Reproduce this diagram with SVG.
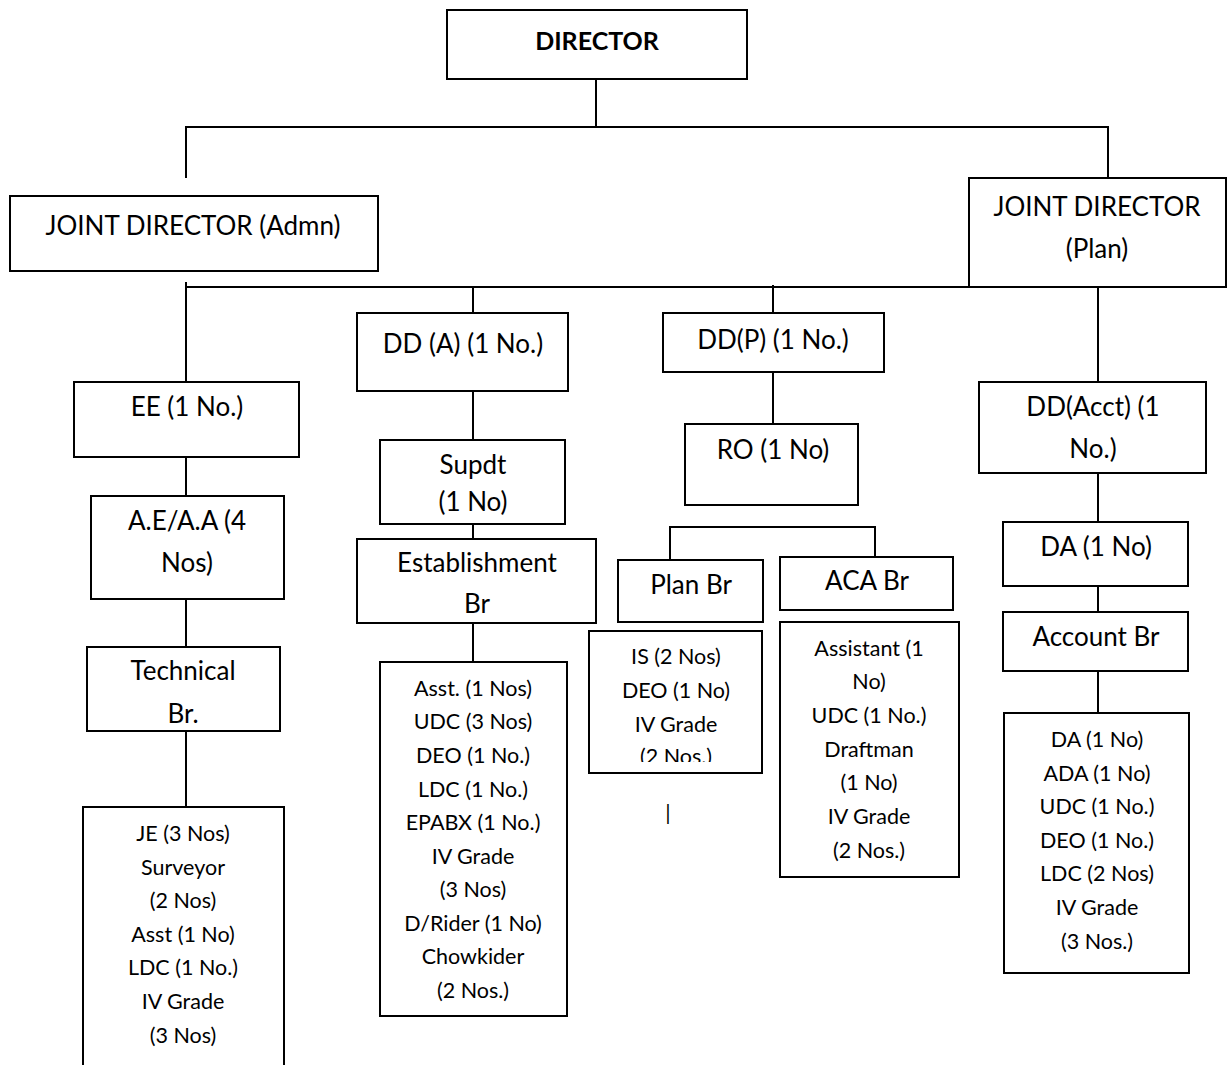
<svg xmlns="http://www.w3.org/2000/svg" width="1227" height="1065" viewBox="0 0 1227 1065">
<style>
.box{fill:#fff;stroke:#000;stroke-width:2}
.t{font-family:Lato,"Open Sans","Liberation Sans",sans-serif;font-size:26px;text-anchor:middle;fill:#000}
.s{font-size:21.5px}
.b{font-weight:bold;font-size:25px}
.c line{stroke:#000;stroke-width:2}
</style>
<defs>
<clipPath id="isclip"><rect x="589" y="631" width="173" height="131"/></clipPath>
</defs>
<rect width="1227" height="1065" fill="#fff"/>
<g id="connectors" class="c">
<line x1="596" y1="79" x2="596" y2="127"/>
<line x1="186" y1="127" x2="1109" y2="127"/>
<line x1="186" y1="126" x2="186" y2="178"/>
<line x1="1108" y1="126" x2="1108" y2="178"/>
<line x1="186" y1="287" x2="1100" y2="287"/>
<line x1="186" y1="282" x2="186" y2="382"/>
<line x1="186" y1="457" x2="186" y2="496"/>
<line x1="186" y1="599" x2="186" y2="647"/>
<line x1="186" y1="731" x2="186" y2="807"/>
<line x1="473" y1="287" x2="473" y2="313"/>
<line x1="473" y1="391" x2="473" y2="440"/>
<line x1="473" y1="524" x2="473" y2="539"/>
<line x1="473" y1="623" x2="473" y2="662"/>
<line x1="773" y1="285" x2="773" y2="313"/>
<line x1="773" y1="372" x2="773" y2="424"/>
<line x1="669" y1="527" x2="876" y2="527"/>
<line x1="670" y1="526" x2="670" y2="560"/>
<line x1="875" y1="526" x2="875" y2="557"/>
<line x1="1098" y1="287" x2="1098" y2="382"/>
<line x1="1098" y1="473" x2="1098" y2="522"/>
<line x1="1098" y1="586" x2="1098" y2="612"/>
<line x1="1098" y1="671" x2="1098" y2="713"/>
</g>
<g id="director"><rect class="box" x="447" y="10" width="300" height="69"/><text class="t b" x="597" y="50">DIRECTOR</text></g>
<g id="jd_admn"><rect class="box" x="10" y="196" width="368" height="75"/><text class="t" x="193" y="234.5">JOINT DIRECTOR (Admn)</text></g>
<g id="jd_plan"><rect class="box" x="969" y="178" width="257" height="109"/><text class="t" x="1097" y="216">JOINT DIRECTOR</text><text class="t" x="1097" y="257.5">(Plan)</text></g>
<g id="ee"><rect class="box" x="74" y="382" width="225" height="75"/><text class="t" x="187" y="416">EE (1 No.)</text></g>
<g id="aeaa"><rect class="box" x="91" y="496" width="193" height="103"/><text class="t" x="187" y="530">A.E/A.A (4</text><text class="t" x="187" y="572">Nos)</text></g>
<g id="technical"><rect class="box" x="87" y="647" width="193" height="84"/><text class="t" x="183" y="680">Technical</text><text class="t" x="183" y="722.5">Br.</text></g>
<g id="technical_staff"><rect class="box" x="83" y="807" width="201" height="270"/>
<g class="t s"><text x="183" y="841">JE (3 Nos)</text><text x="183" y="875">Surveyor</text><text x="183" y="908">(2 Nos)</text><text x="183" y="942">Asst (1 No)</text><text x="183" y="975">LDC (1 No.)</text><text x="183" y="1009">IV Grade</text><text x="183" y="1043">(3 Nos)</text></g></g>
<g id="dda"><rect class="box" x="357" y="313" width="211" height="78"/><text class="t" x="463" y="352.5">DD (A) (1 No.)</text></g>
<g id="supdt"><rect class="box" x="380" y="440" width="185" height="84"/><text class="t" x="473" y="473.5">Supdt</text><text class="t" x="473" y="511">(1 No)</text></g>
<g id="establishment"><rect class="box" x="357" y="539" width="239" height="84"/><text class="t" x="477" y="572">Establishment</text><text class="t" x="477" y="612.5">Br</text></g>
<g id="establishment_staff"><rect class="box" x="380" y="662" width="187" height="354"/>
<g class="t s"><text x="473" y="696">Asst. (1 Nos)</text><text x="473" y="729">UDC (3 Nos)</text><text x="473" y="763">DEO (1 No.)</text><text x="473" y="797">LDC (1 No.)</text><text x="473" y="830">EPABX (1 No.)</text><text x="473" y="864">IV Grade</text><text x="473" y="897">(3 Nos)</text><text x="473" y="931">D/Rider (1 No)</text><text x="473" y="964">Chowkider</text><text x="473" y="998">(2 Nos.)</text></g></g>
<g id="ddp"><rect class="box" x="663" y="313" width="221" height="59"/><text class="t" x="773" y="348.5">DD(P) (1 No.)</text></g>
<g id="ro"><rect class="box" x="685" y="424" width="173" height="81"/><text class="t" x="773" y="458.5">RO (1 No)</text></g>
<g id="planbr"><rect class="box" x="618" y="560" width="145" height="62"/><text class="t" x="691" y="593.5">Plan Br</text></g>
<g id="acabr"><rect class="box" x="780" y="557" width="173" height="53"/><text class="t" x="867" y="590">ACA Br</text></g>
<g id="plan_staff"><rect class="box" x="589" y="631" width="173" height="142"/>
<g class="t s" clip-path="url(#isclip)"><text x="676" y="664">IS (2 Nos)</text><text x="676" y="698">DEO (1 No)</text><text x="676" y="732">IV Grade</text><text x="676" y="764">(2 Nos.)</text></g></g>
<text class="t s" x="668" y="820">|</text>
<g id="aca_staff"><rect class="box" x="780" y="622" width="179" height="255"/>
<g class="t s"><text x="869" y="656">Assistant (1</text><text x="869" y="689">No)</text><text x="869" y="723">UDC (1 No.)</text><text x="869" y="757">Draftman</text><text x="869" y="790">(1 No)</text><text x="869" y="824">IV Grade</text><text x="869" y="858">(2 Nos.)</text></g></g>
<g id="ddacct"><rect class="box" x="979" y="382" width="227" height="91"/><text class="t" x="1093" y="415.5">DD(Acct) (1</text><text class="t" x="1093" y="457.5">No.)</text></g>
<g id="da"><rect class="box" x="1003" y="522" width="185" height="64"/><text class="t" x="1096" y="556">DA (1 No)</text></g>
<g id="accountbr"><rect class="box" x="1003" y="612" width="185" height="59"/><text class="t" x="1096" y="646">Account Br</text></g>
<g id="account_staff"><rect class="box" x="1004" y="713" width="185" height="260"/>
<g class="t s"><text x="1097" y="747">DA (1 No)</text><text x="1097" y="781">ADA (1 No)</text><text x="1097" y="814">UDC (1 No.)</text><text x="1097" y="848">DEO (1 No.)</text><text x="1097" y="881">LDC (2 Nos)</text><text x="1097" y="915">IV Grade</text><text x="1097" y="949">(3 Nos.)</text></g></g>
</svg>
